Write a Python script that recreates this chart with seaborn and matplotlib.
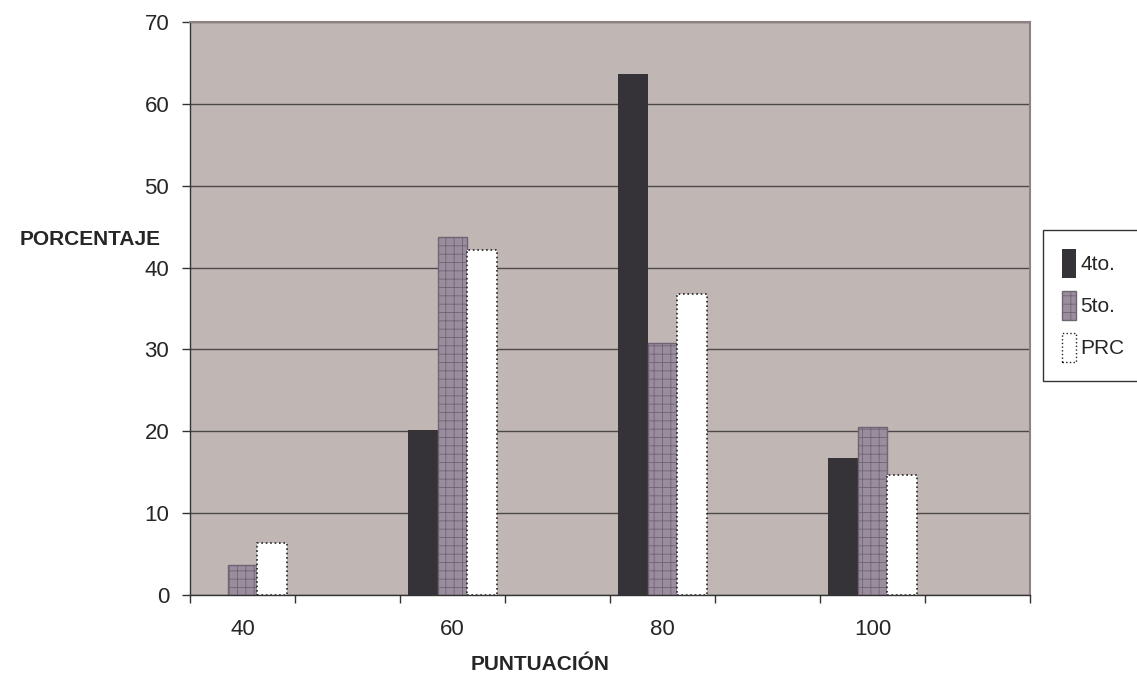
import pandas as pd
import matplotlib
matplotlib.use("Agg")
import matplotlib.pyplot as plt
import matplotlib.patches as mpatches
import seaborn as sns

# Datos (porcentaje por puntuacion)
puntuaciones = ["40", "50", "60", "70", "80", "90", "100", "110"]
grupos = ["40", "60", "80", "100"]
series = ["4to.", "5to.", "PRC"]
val_4to = [0.0, 20.1, 63.7, 16.7]
val_5to = [3.7, 43.7, 30.8, 20.5]
val_prc = [6.4, 42.2, 36.8, 14.6]
etiquetas_x = ["40", "", "60", "", "80", "", "100", ""]
ticks_y = [0, 10, 20, 30, 40, 50, 60, 70]

df = pd.DataFrame({
    "PUNTUACION": grupos * 3,
    "serie": [s for s in series for _ in grupos],
    "valor": val_4to + val_5to + val_prc,
})

sns.set_style("white")
plt.rcParams["font.family"] = ["Liberation Sans", "DejaVu Sans"]
plt.rcParams["hatch.linewidth"] = 0.6

fig = plt.figure(figsize=(11.37, 6.73), dpi=100)
ax = fig.add_axes([190 / 1137, 1 - 595 / 673, 840 / 1137, 573 / 673])
ax.set_facecolor("#c0b7b4")

colores = {"4to.": "#353338", "5to.": "#9a8e9e", "PRC": "#ffffff"}
sns.barplot(data=df, x="PUNTUACION", y="valor", hue="serie", order=puntuaciones,
            hue_order=series, palette=colores, width=0.84, gap=0,
            saturation=1, legend=False, ax=ax)

# estilos de cada serie
for bar in ax.containers[0]:
    bar.set_edgecolor("none")
for bar in ax.containers[1]:
    bar.set_hatch("++")
    bar.set_edgecolor("#6f6474")
    bar.set_linewidth(1.0)
for bar in ax.containers[2]:
    bar.set_edgecolor("#222222")
    bar.set_linestyle(":")
    bar.set_linewidth(1.2)

ax.set_xlim(-0.5, len(puntuaciones) - 0.5)
ax.set_ylim(0, 70)
ax.set_yticks(ticks_y)
ax.yaxis.grid(True, color="#4d4848", linewidth=1.0)
ax.set_axisbelow(True)

ax.set_xticks(range(len(puntuaciones)))
ax.set_xticklabels(etiquetas_x, fontsize=16)
ax.set_xticks([i - 0.5 for i in range(len(puntuaciones) + 1)], minor=True)
ax.tick_params(axis="x", which="both", bottom=True)
ax.tick_params(axis="x", which="major", length=0, pad=17)
ax.tick_params(axis="x", which="minor", length=6, width=1, color="#333333", direction="out")
ax.tick_params(axis="y", left=True, length=6, width=1, color="#333333", direction="out",
               pad=9, labelsize=16)

for s in ["left", "bottom"]:
    ax.spines[s].set_color("#333333")
    ax.spines[s].set_linewidth(1.0)
for s in ["top", "right"]:
    ax.spines[s].set_color("#8c8282")
    ax.spines[s].set_linewidth(1.5)

ax.set_ylabel("PORCENTAJE", fontsize=15, fontweight="bold", rotation=0,
              ha="center", va="center")
ax.yaxis.set_label_coords(-0.119, 0.62)
ax.set_xlabel("PUNTUACIÓN", fontsize=15, fontweight="bold", ha="center", va="center")
ax.xaxis.set_label_coords(0.417, -0.122)

handles = [
    mpatches.Patch(facecolor=colores["4to."], edgecolor="none", label="4to."),
    mpatches.Patch(facecolor=colores["5to."], edgecolor="#6f6474", hatch="++", label="5to."),
    mpatches.Patch(facecolor="white", edgecolor="#222222", linestyle=":", label="PRC"),
]
leg = fig.legend(handles=handles, loc="upper left",
                 bbox_to_anchor=(1043 / 1137, 1 - 383 / 673, 0.1, 153 / 673),
                 mode="expand", borderaxespad=0, fontsize=15, frameon=True,
                 fancybox=False, handlelength=0.7, handleheight=1.8,
                 handletextpad=0.2, labelspacing=0.6, borderpad=0.9)
leg.get_frame().set_edgecolor("#000000")
leg.get_frame().set_linewidth(1.0)

fig.savefig("out.png", dpi=100)
